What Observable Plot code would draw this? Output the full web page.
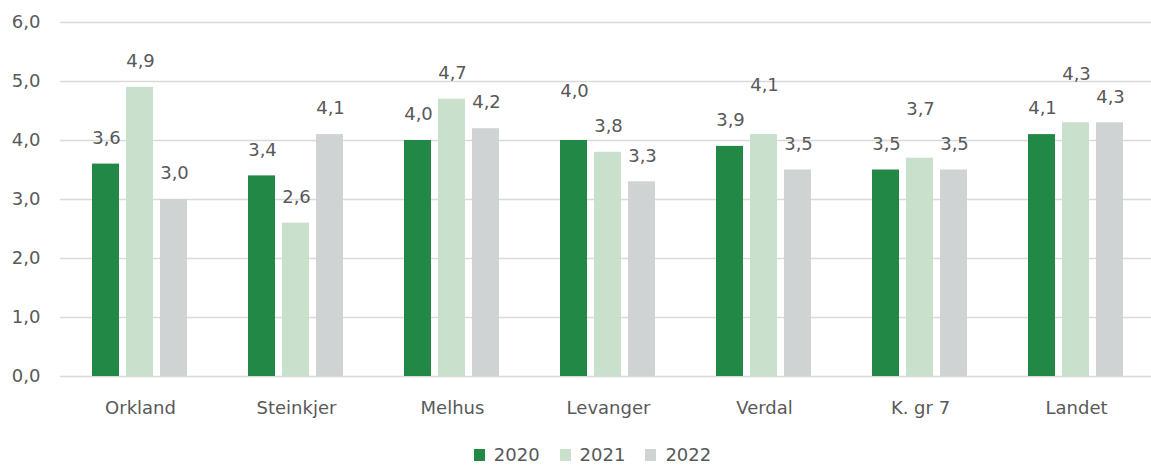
<!DOCTYPE html>
<html>
<head>
<meta charset="utf-8">
<script src="https://cdn.jsdelivr.net/npm/d3@7"></script>
<script src="https://cdn.jsdelivr.net/npm/@observablehq/plot@0.6"></script>
<style>
  html, body { margin: 0; padding: 0; background: #fff; }
  body { width: 1151px; height: 470px; overflow: hidden; font-family: "DejaVu Sans", sans-serif; }
  #legend { display: flex; justify-content: center; align-items: center; gap: 20px; margin-left: 34px; margin-top: 14px; font-size: 18px; color: #595959; }
  #legend .item { display: flex; align-items: center; gap: 9px; }
  #legend .sw { width: 11px; height: 12px; display: inline-block; }
</style>
</head>
<body>
<div id="chart"></div>
<div id="legend"></div>
<script>
const categories = ["Orkland", "Steinkjer", "Melhus", "Levanger", "Verdal", "K. gr 7", "Landet"];
const years = ["2020", "2021", "2022"];
const v2020 = [3.6, 3.4, 4.0, 4.0, 3.9, 3.5, 4.1];
const v2021 = [4.9, 2.6, 4.7, 3.8, 4.1, 3.7, 4.3];
const v2022 = [3.0, 4.1, 4.2, 3.3, 3.5, 3.5, 4.3];
const yTicks = [0, 1, 2, 3, 4, 5, 6];

const colors = ["#218845", "#c8e0cc", "#cfd3d3"];
const series = [v2020, v2021, v2022];
// labels Excel pushed upward to avoid collisions
const lifted = new Set(["Levanger|2021".replace("2021","2020"), "Verdal|2021", "K. gr 7|2021", "Landet|2021"]);

const tables = series.map((vals, i) => categories.map((c, k) => ({cat: c, year: years[i], v: vals[k], lift: lifted.has(c + "|" + years[i])})));
const fmt = d => d.toFixed(1).replace(".", ",");

const marks = [
  Plot.ruleY(yTicks, {y: d => d, stroke: "#d9d9d9", strokeWidth: 1.3})
];
tables.forEach((t, i) => {
  marks.push(Plot.barY(t, {x: "cat", y: "v", fill: colors[i], insetLeft: 30 + 34 * i, insetRight: 99 - 34 * i}));
});
tables.forEach((t, i) => {
  const dx = -34 + 34 * i;
  marks.push(Plot.text(t.filter(d => !d.lift), {x: "cat", y: "v", text: d => fmt(d.v), dx, dy: -26, fill: "#595959", fontSize: 18}));
  marks.push(Plot.text(t.filter(d => d.lift), {x: "cat", y: "v", text: d => fmt(d.v), dx, dy: -49, fill: "#595959", fontSize: 18}));
});
marks.push(Plot.axisY({ticks: yTicks, tickSize: 0, tickPadding: 20, tickFormat: fmt, fontSize: 18, color: "#595959", label: null}));
marks.push(Plot.axisX({tickSize: 0, tickPadding: 25, fontSize: 18, color: "#595959", label: null}));

const chart = Plot.plot({
  width: 1151,
  height: 430,
  marginLeft: 60,
  marginRight: 0,
  marginTop: 22,
  marginBottom: 54,
  style: {fontFamily: "DejaVu Sans", color: "#595959", background: "#fff"},
  x: {domain: categories, range: [62, 1154], padding: 0},
  y: {domain: [0, 6]},
  marks
});
document.getElementById("chart").appendChild(chart);

const legend = document.getElementById("legend");
years.forEach((y, i) => {
  const item = document.createElement("span");
  item.className = "item";
  const sw = document.createElement("span");
  sw.className = "sw";
  sw.style.background = colors[i];
  const tx = document.createElement("span");
  tx.textContent = y;
  item.appendChild(sw);
  item.appendChild(tx);
  legend.appendChild(item);
});
</script>
</body>
</html>
